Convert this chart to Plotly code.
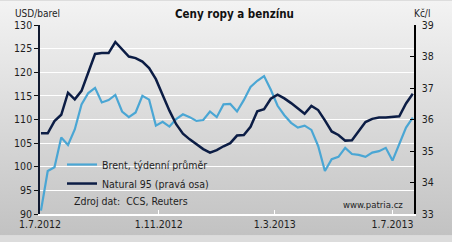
import base64
import pandas as pd
import plotly.graph_objects as go

# ---- data ----
week_start = "2012-07-02"
n_weeks = 56
dates = pd.date_range(week_start, periods=n_weeks, freq="7D")

brent = [90.7, 99.1, 99.9, 106.2, 104.6, 107.9, 113.2, 115.6, 116.7, 113.6,
         114.1, 115.2, 111.7, 110.5, 111.5, 115.0, 114.2, 108.7, 109.5, 108.5,
         110.1, 111.1, 110.5, 109.7, 109.9, 111.7, 110.5, 113.2, 113.3, 111.7,
         114.1, 116.9, 118.2, 119.2, 116.3, 112.9, 110.9, 109.3, 108.3, 108.7,
         107.8, 104.4, 99.1, 101.6, 102.1, 104.0, 102.7, 102.5, 102.1, 103.0,
         103.3, 104.0, 101.3, 104.7, 108.3, 110.4]

natural95 = [35.56, 35.56, 35.95, 36.15, 36.85, 36.64, 36.91, 37.51, 38.08, 38.11,
             38.11, 38.46, 38.22, 38.00, 37.95, 37.84, 37.63, 37.28, 36.78, 36.28,
             35.85, 35.55, 35.37, 35.22, 35.06, 34.95, 35.03, 35.15, 35.25, 35.49,
             35.51, 35.77, 36.26, 36.33, 36.66, 36.79, 36.67, 36.52, 36.35, 36.18,
             36.43, 36.30, 35.97, 35.62, 35.51, 35.33, 35.34, 35.65, 35.92, 36.02,
             36.06, 36.06, 36.08, 36.10, 36.51, 36.82]

x_tick_vals = ["2012-07-01", "2012-11-01", "2013-03-01", "2013-07-01"]
x_tick_text = ["1.7.2012", "1.11.2012", "1.3.2013", "1.7.2013"]
x_range = ["2012-07-01", "2013-07-23 06:00"]

name_brent = "Brent, týdenní průměr"
name_natural = "Natural 95 (pravá osa)"
title_text = "Ceny ropy a benzínu"
left_unit = "USD/barel"
right_unit = "Kč/l"
source_text = "Zdroj dat:  CCS, Reuters"
site_text = "www.patria.cz"

# ---- style ----
W, H = 452, 242
ML, MR, MT, MB = 40, 38, 25, 22
PW, PH = W - ML - MR, H - MT - MB
FONT = "DejaVu Sans Condensed, DejaVu Sans, sans-serif"
TXT = "#1e1e1e"

svg = (
    f'<svg xmlns="http://www.w3.org/2000/svg" width="{W}" height="{H}">'
    '<defs><linearGradient id="g" x1="0" y1="0" x2="0" y2="1">'
    '<stop offset="0" stop-color="#f3f3f3"/><stop offset="1" stop-color="#c2c2c2"/>'
    '</linearGradient></defs>'
    f'<rect width="{W}" height="{H}" fill="url(#g)"/></svg>'
)
bg_uri = "data:image/svg+xml;base64," + base64.b64encode(svg.encode()).decode()

fig = go.Figure()
fig.add_trace(go.Scatter(x=dates, y=brent, name=name_brent, mode="lines",
                         line=dict(color="#4aa6d4", width=2.2), yaxis="y"))
fig.add_trace(go.Scatter(x=dates, y=natural95, name=name_natural, mode="lines",
                         line=dict(color="#0c1d45", width=2.5), yaxis="y2"))

def px_x(px):
    return (px - ML) / PW

def px_y(py):
    return 1 - (py - MT) / PH

fig.update_layout(
    width=W, height=H,
    margin=dict(l=ML, r=MR, t=MT, b=MB, pad=0),
    paper_bgcolor="#dcdcdc",
    plot_bgcolor="rgba(0,0,0,0)",
    font=dict(family=FONT, size=10, color=TXT),
    showlegend=True,
    legend=dict(x=px_x(62), y=px_y(154), xanchor="left", yanchor="top",
                bgcolor="rgba(0,0,0,0)", borderwidth=0,
                font=dict(family=FONT, size=10.5, color=TXT),
                tracegroupgap=0),
    xaxis=dict(type="date", range=x_range, tickvals=x_tick_vals, ticktext=x_tick_text,
               showgrid=False, zeroline=False, showline=True, linecolor="white", linewidth=1.5,
               ticks="inside", ticklen=4, tickcolor="white", tickwidth=1,
               tickfont=dict(family=FONT, size=10.5, color=TXT)),
    yaxis=dict(range=[90, 130], dtick=5, tick0=90, showgrid=True, gridcolor="white", gridwidth=1.2,
               zeroline=False, showline=True, linecolor="#111a30", linewidth=1.5,
               ticks="outside", ticklen=4, tickcolor="#111", tickwidth=1,
               tickfont=dict(family=FONT, size=10.5, color=TXT)),
    yaxis2=dict(range=[33, 39], dtick=1, tick0=33, overlaying="y", side="right",
                showgrid=False, zeroline=False, showline=True, linecolor="#000", linewidth=1.5,
                ticks="inside", ticklen=4, tickcolor="#000", tickwidth=1,
                ticklabelstandoff=4,
                tickfont=dict(family=FONT, size=10.5, color=TXT)),
    images=[dict(source=bg_uri, xref="paper", yref="paper",
                 x=-ML / PW, y=1 + MT / PH, sizex=W / PW, sizey=H / PH,
                 xanchor="left", yanchor="top", sizing="stretch", layer="below")],
    annotations=[
        dict(text=f"<b>{title_text}</b>", xref="paper", yref="paper",
             x=px_x(234), y=px_y(14), xanchor="center", yanchor="middle",
             showarrow=False, font=dict(family=FONT, size=11.5, color="#111")),
        dict(text=left_unit, xref="paper", yref="paper", x=px_x(13), y=px_y(13),
             xanchor="left", yanchor="middle", showarrow=False,
             font=dict(family=FONT, size=10, color=TXT)),
        dict(text=right_unit, xref="paper", yref="paper", x=px_x(412), y=px_y(13),
             xanchor="left", yanchor="middle", showarrow=False,
             font=dict(family=FONT, size=10, color=TXT)),
        dict(text=source_text, xref="paper", yref="paper", x=px_x(72), y=px_y(207),
             xanchor="left", yanchor="middle", showarrow=False,
             font=dict(family=FONT, size=10.5, color=TXT)),
        dict(text=site_text, xref="paper", yref="paper", x=px_x(405), y=px_y(210),
             xanchor="right", yanchor="middle", showarrow=False,
             font=dict(family=FONT, size=9.5, color=TXT)),
    ],
)

fig.write_html("out.html")
